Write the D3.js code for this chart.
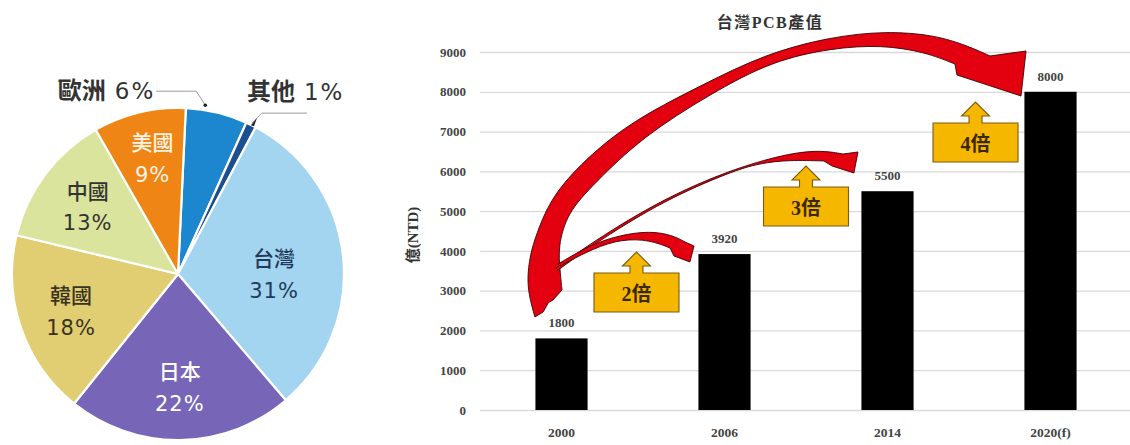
<!DOCTYPE html>
<html><head><meta charset="utf-8">
<script src="https://cdn.jsdelivr.net/npm/d3@7"></script>
<style>body{margin:0;background:#fff}svg{display:block}</style>
</head><body>
<svg id="c" width="1130" height="445"></svg>
<script>
// ---- Pie data (share of global PCB output) ----
const pieLabels = ["歐洲", "其他", "台灣", "日本", "韓國", "中國", "美國"];
const pieValues = [6, 1, 31, 22, 18, 13, 9];
const pieColors = ["#1C87CE", "#1B4F92", "#A3D5F1", "#7766B8", "#E1CE72", "#DBE49D", "#EF8514"];
const pieTextColors = ["#333", "#333", "#1F3A5A", "#FFFFFF", "#3A3320", "#333333", "#FFF3E6"];

// ---- Bar data (Taiwan PCB output, 億 NTD) ----
const years = ["2000", "2006", "2014", "2020(f)"];
const output = [1800, 3920, 5500, 8000];
const yTicks = [0, 1000, 2000, 3000, 4000, 5000, 6000, 7000, 8000, 9000];
const multiples = ["2倍", "3倍", "4倍"];
// callout anchors in data space: [category index, value at box top]
const calloutAnchors = [[0.46, 3444], [1.50, 5606], [2.54, 7215]];

// growth arrows (annotation outlines in data space: [category index, value])
const arrowSmallOuter = [[-0.021,3670],[0.175,4148],[0.359,4400],[0.543,4500],[0.678,4400],[0.758,4224]];
const arrowSmallHead  = [[0.813,4123],[0.788,3721],[0.690,3872]];
const arrowSmallInner = [[0.666,4073],[0.543,4274],[0.371,4299],[0.199,4073],[-0.009,3620]];

const arrowMidOuter = [[-0.034,3570],[0.236,4349],[0.635,5330],[1.034,6034],[1.371,6436],[1.586,6536],[1.727,6436]];
const arrowMidHead  = [[1.819,6486],[1.794,5958],[1.660,6134]];
const arrowMidInner = [[1.610,6260],[1.402,6285],[1.218,6210],[1.034,5983],[0.635,5279],[0.236,4274],[-0.021,3520]];

const arrowBigOuter = [[-0.163,2338],[-0.193,2765],[-0.212,3268],[-0.193,3897],[-0.156,4400],[-0.071,5279],[0.101,6134],[0.408,7215],[0.850,8145],[1.248,8950],[1.647,9377],[1.985,9528],[2.291,9428],[2.494,9151],[2.629,8900]];
const arrowBigHead  = [[2.850,9025],[2.819,7894],[2.426,8422]];
const arrowBigInner = [[2.414,8698],[2.230,9000],[1.966,9176],[1.660,9101],[1.291,8774],[0.923,7969],[0.494,6863],[0.199,5682],[0.034,4953],[-0.021,4098],[-0.009,3520],[0.003,3017]];
const arrowBigTail  = [[-0.052,2765],[-0.080,2700],[-0.113,2464]];

const svg = d3.select("#c");
const cjkSans = "'Noto Sans CJK TC','Noto Sans CJK SC',sans-serif";
const digitSans = "'DejaVu Sans','Noto Sans CJK TC',sans-serif";
const serif = "'Liberation Serif','DejaVu Serif','Noto Sans CJK TC',serif";

// ================= PIE =================
const R = 166;
const a0 = 2.7 * Math.PI / 180;
const pieG = svg.append("g").attr("transform", "translate(178,274)");
const pie = d3.pie().sort(null).value(d => d).startAngle(a0).endAngle(a0 + 2 * Math.PI);
const arcs = pie(pieValues);
const arc = d3.arc().innerRadius(0).outerRadius(R);
pieG.selectAll("path.slice").data(arcs).join("path")
  .attr("class", "slice")
  .attr("d", arc)
  .attr("fill", (d, i) => pieColors[i])
  .attr("stroke", "#fff").attr("stroke-width", 2.2).attr("stroke-linejoin", "round");

function polar(angle, r) { return [Math.sin(angle) * r, -Math.cos(angle) * r]; }

// inside labels
arcs.forEach((d, i) => {
  if (pieValues[i] < 9) return;
  const mid = (d.startAngle + d.endAngle) / 2;
  let c;
  if (pieLabels[i] === "台灣") c = polar(Math.PI / 2, 96);
  else if (pieLabels[i] === "美國") c = polar(mid + 0.02, 119);
  else c = polar(mid, 113);
  const g = pieG.append("g").attr("transform", `translate(${c[0]},${c[1]})`);
  g.append("text").attr("text-anchor", "middle").attr("y", -15).attr("dy", "0.35em")
    .style("font-family", cjkSans).style("font-size", "21px").style("font-weight", 500)
    .attr("fill", pieTextColors[i]).text(pieLabels[i]);
  g.append("text").attr("text-anchor", "middle").attr("y", 17).attr("dy", "0.35em")
    .style("font-family", digitSans).style("font-size", "21px").style("letter-spacing", "1px")
    .attr("fill", pieTextColors[i]).text(pieValues[i] + "%");
});

// outside labels with leader lines
function outsideLabel(i, x, yy, anchor) {
  const txt = pieG.append("text").attr("x", x).attr("y", yy).attr("dy", "0.35em")
    .attr("text-anchor", anchor).attr("fill", "#333");
  txt.append("tspan").style("font-family", cjkSans).style("font-size", "24px")
    .style("font-weight", 700).text(pieLabels[i]);
  txt.append("tspan").attr("dx", 9).style("font-family", digitSans).style("font-size", "23px")
    .style("letter-spacing", "2px").text(pieValues[i] + "%");
}
{
  const d = arcs[0];
  const p = polar(d.startAngle + 0.3 * (d.endAngle - d.startAngle), 171);
  pieG.append("path").attr("d", `M${p[0]},${p[1]}L${p[0]-9},${p[1]-14}L${p[0]-49},${p[1]-14}`)
    .attr("fill", "none").attr("stroke", "#9a9a9a").attr("stroke-width", 1);
  pieG.append("circle").attr("cx", p[0]).attr("cy", p[1]).attr("r", 1.8).attr("fill", "#222");
  outsideLabel(0, p[0] - 50, p[1] - 12, "end");
}
{
  const d = arcs[1];
  const p = polar((d.startAngle + d.endAngle) / 2, 168);
  pieG.append("path").attr("d", `M${p[0]},${p[1]}L${p[0]+10},${p[1]-10}L${p[0]+55},${p[1]-10}`)
    .attr("fill", "none").attr("stroke", "#9a9a9a").attr("stroke-width", 1);
  pieG.append("path").attr("d", `M${p[0]-1},${p[1]+2}L${p[0]+5},${p[1]-5}L${p[0]+2},${p[1]+3}Z`)
    .attr("fill", "#222");
  outsideLabel(1, p[0] - 5, p[1] - 29, "start");
}

// ================= BARS =================
const x = d3.scaleBand().domain(years).range([480, 1132]).paddingInner(0.68).paddingOuter(0.34);
const y = d3.scaleLinear().domain([0, 9000]).range([410, 52]);
const ax = d3.scaleLinear().domain([0, 3])
  .range([x(years[0]) + x.bandwidth() / 2, x(years[3]) + x.bandwidth() / 2]);

const yAxis = svg.append("g").attr("transform", "translate(480,0)")
  .call(d3.axisLeft(y).tickValues(yTicks).tickSize(-650).tickPadding(14).tickFormat(d3.format("d")));
yAxis.select(".domain").remove();
yAxis.selectAll(".tick line").attr("stroke", "#d9d9d9").attr("stroke-width", 1.3);
yAxis.selectAll(".tick text").style("font-family", serif).style("font-size", "13px")
  .style("font-weight", "bold").attr("fill", "#444");

const xAxis = svg.append("g").attr("transform", "translate(0,410)")
  .call(d3.axisBottom(x).tickSize(0).tickPadding(17));
xAxis.select(".domain").remove();
xAxis.selectAll(".tick text").style("font-family", serif).style("font-size", "13.5px")
  .style("font-weight", "bold").attr("fill", "#444");

svg.selectAll("rect.bar").data(output).join("rect")
  .attr("class", "bar")
  .attr("x", (d, i) => x(years[i]))
  .attr("y", d => y(d))
  .attr("width", x.bandwidth())
  .attr("height", d => y(0) - y(d))
  .attr("fill", "#000");

svg.selectAll("text.val").data(output).join("text")
  .attr("class", "val")
  .attr("x", (d, i) => x(years[i]) + x.bandwidth() / 2)
  .attr("y", d => y(d) - 11)
  .attr("text-anchor", "middle")
  .style("font-family", serif).style("font-size", "13px").style("font-weight", "bold")
  .attr("fill", "#444").text(d => d);

// title and axis title
svg.append("text").attr("x", 770).attr("y", 22).attr("dy", "0.35em").attr("text-anchor", "middle")
  .style("font-family", serif).style("font-size", "16px").style("font-weight", "bold")
  .style("letter-spacing", "1.5px").attr("fill", "#333").text("台灣PCB產值");
svg.append("text").attr("transform", "translate(413,235) rotate(-90)").attr("dy", "0.35em")
  .attr("text-anchor", "middle").style("font-family", serif).style("font-size", "15px")
  .style("font-weight", "bold").attr("fill", "#333").text("億(NTD)");

// ================= ANNOTATIONS =================
function ribbon(outer, head, inner, tail) {
  const line = d3.line().x(d => ax(d[0])).y(d => y(d[1])).curve(d3.curveBasis);
  const p1 = line(outer);
  const ph = head.map(d => `L${ax(d[0])},${y(d[1])}`).join("");
  const p2 = line(inner).replace(/^M/, "L");
  const pt = (tail || []).map(d => `L${ax(d[0])},${y(d[1])}`).join("");
  return p1 + ph + p2 + pt + "Z";
}
const arrows = [
  [arrowBigOuter, arrowBigHead, arrowBigInner, arrowBigTail],
  [arrowMidOuter, arrowMidHead, arrowMidInner],
  [arrowSmallOuter, arrowSmallHead, arrowSmallInner]
];
svg.selectAll("path.grow").data(arrows).join("path")
  .attr("class", "grow")
  .attr("d", d => ribbon(d[0], d[1], d[2], d[3]))
  .attr("fill", "#E3000F").attr("stroke", "#3a0505").attr("stroke-width", 0.9)
  .attr("stroke-linejoin", "round");

// up-arrow callouts
const bw = 85, bh = 39;
calloutAnchors.forEach((c, i) => {
  const cx = ax(c[0]), top = y(c[1]);
  const p = [
    [cx - bw / 2, top], [cx - 6.5, top], [cx - 6.5, top - 7], [cx - 14, top - 7], [cx, top - 21],
    [cx + 14, top - 7], [cx + 6.5, top - 7], [cx + 6.5, top], [cx + bw / 2, top],
    [cx + bw / 2, top + bh], [cx - bw / 2, top + bh]
  ];
  svg.append("path").attr("d", "M" + p.map(q => q.join(",")).join("L") + "Z")
    .attr("fill", "#F6B700").attr("stroke", "#7a5c10").attr("stroke-width", 1.1);
  svg.append("text").attr("x", cx).attr("y", top + bh / 2 + 1).attr("dy", "0.35em")
    .attr("text-anchor", "middle").style("font-family", serif).style("font-size", "20px")
    .style("font-weight", "bold").attr("fill", "#3a2800").text(multiples[i]);
});
</script>
</body></html>
